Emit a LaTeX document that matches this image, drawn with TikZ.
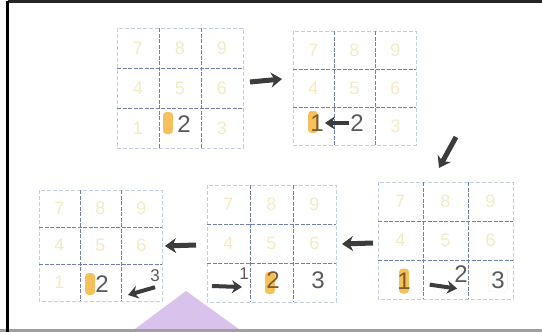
\documentclass[tikz,border=0pt]{standalone}
\usepackage{fontspec}
\setmainfont{Liberation Sans}
\usepackage{xcolor}
\usetikzlibrary{arrows.meta}

\definecolor{hlorange}{HTML}{F5C15A}
\definecolor{hlbrown}{HTML}{7D5B2E}
\definecolor{faintyel}{HTML}{F5EAC4}
\definecolor{gridblue}{HTML}{5868A0}
\definecolor{gridpale}{HTML}{C4CCE2}
\definecolor{arrgray}{HTML}{3C3C3C}
\definecolor{digitgray}{HTML}{5A5A5A}
\definecolor{lilac}{HTML}{D9C2EC}

\begin{document}
\begin{tikzpicture}[
  x=1pt, y=-1pt,
  gridin/.style  = {draw=gridblue!85, line width=0.8pt,
                    dash pattern=on 4pt off 1.5pt},
  gridout/.style = {draw=gridpale, line width=0.7pt,
                    dash pattern=on 4pt off 2pt},
  faintnum/.style= {text=faintyel, font=\fontsize{18}{18}\selectfont,
                    inner sep=0pt},
  darknum/.style = {text=digitgray, font=\fontsize{24}{24}\selectfont,
                    inner sep=1pt},
  smallnum/.style= {darknum, font=\fontsize{17}{17}\selectfont},
  blob/.style    = {fill=hlorange, rounded corners=3.5pt, minimum width=10pt,
                    minimum height=22pt, inner sep=0pt},
  bigarr/.style  = {-{Stealth[length=11pt,width=15pt]}, line width=5pt,
                    draw=arrgray},
  steparr/.style = {-{Stealth[length=10pt,width=13pt]}, line width=4pt,
                    draw=arrgray},
  pics/numpad/.style n args={3}{code={
    \draw[gridout] (0,0) rectangle (3*#1,3*#2);
    \draw[gridin] (#1,0) -- (#1,3*#2) (2*#1,0) -- (2*#1,3*#2)
                  (0,#2) -- (3*#1,#2) (0,2*#2) -- (3*#1,2*#2);
    \foreach \d in {#3}
      \node[faintnum] (-c\d)
        at ({(mod(\d-1,3)+0.5)*#1},{(2.5-int((\d-1)/3))*#2}) {\d};
  }}
]
\useasboundingbox (0,0) rectangle (542,332);

% ===================== FRAME =====================
\fill[lilac] (186,291) -- (243,332) -- (131,332) -- cycle;
\draw[line width=2.5pt, black!85] (7.5,1.3) -- (542,1.3);
\draw[line width=3pt, gray!75] (0,330.5) -- (542,330.5);
\draw[line width=3pt, black] (7.5,1.3) -- (7.5,332);

% ===================== GRIDS =====================
\pic (g1) at (117,28)  {numpad={42}{40}{7,8,9,4,5,6,1,3}};
\pic (g2) at (293,31)  {numpad={41}{38}{7,8,9,4,5,6,3}};
\pic (g5) at (378,182) {numpad={45}{39}{7,8,9,4,5,6}};
\pic (g4) at (207,185) {numpad={43}{39}{7,8,9,4,5,6}};
\pic (g3) at (39,190)  {numpad={41}{37}{7,8,9,4,5,6,1}};

% grid 1: start on 2
\node[blob] (g1-mark) at (168,123) {};
\node[darknum] (g1-two) at (184,124) {2};

% grid 2: 2 back to 1
\node[blob] (g2-mark) at (313,122) {};
\node[darknum, text=hlbrown] (g2-one) at (317,123) {1};
\node[darknum] (g2-two) at (357,123) {2};
\draw[steparr] (g2-two) -- (g2-one);

% grid 5: 1 on to 2
\node[blob, minimum height=25pt] (g5-mark) at (404,281) {};
\node[darknum, text=hlbrown] (g5-one) at (404,281) {1};
\node[darknum] (g5-two) at (461,274) {2};
\node[darknum, draw=faintyel!70, rounded corners=3pt, inner sep=3pt]
  (g5-three) at (498,280) {3};
\draw[steparr, shorten <=18pt] (g5-one)
  -- ([xshift=4pt,yshift=-5pt]g5-two.south west);

% grid 4: into 1, mark on 2
\coordinate (g4-entry) at (212,286);
\node[smallnum] (g4-one) at (244,274) {1};
\draw[steparr] (g4-entry) -- ([xshift=-2pt,yshift=-6pt]g4-one.south);
\node[blob] (g4-mark) at (270,283) {};
\node[darknum, text=hlbrown] (g4-two) at (273,280) {2};
\node[darknum] (g4-three) at (318,280) {3};

% grid 3: 3 back to 2
\node[blob] (g3-mark) at (90,284) {};
\node[darknum] (g3-two) at (102,284) {2};
\node[smallnum] (g3-three) at (155,276) {3};
\coordinate (g3-exit) at (128,295);
\draw[steparr] ([yshift=-4pt]g3-three.south) -- (g3-exit);

% ===================== STEP ARROWS =====================
\coordinate (a1-from) at (250,82);  \coordinate (a1-to) at (282,79);
\coordinate (a2-from) at (456,137); \coordinate (a2-to) at (439,168);
\coordinate (a3-from) at (373,243); \coordinate (a3-to) at (342,244);
\coordinate (a4-from) at (196,245); \coordinate (a4-to) at (165,246);
\draw[bigarr] (a1-from) -- (a1-to);
\draw[bigarr] (a2-from) -- (a2-to);
\draw[bigarr] (a3-from) -- (a3-to);
\draw[bigarr] (a4-from) -- (a4-to);

\end{tikzpicture}
\end{document}
